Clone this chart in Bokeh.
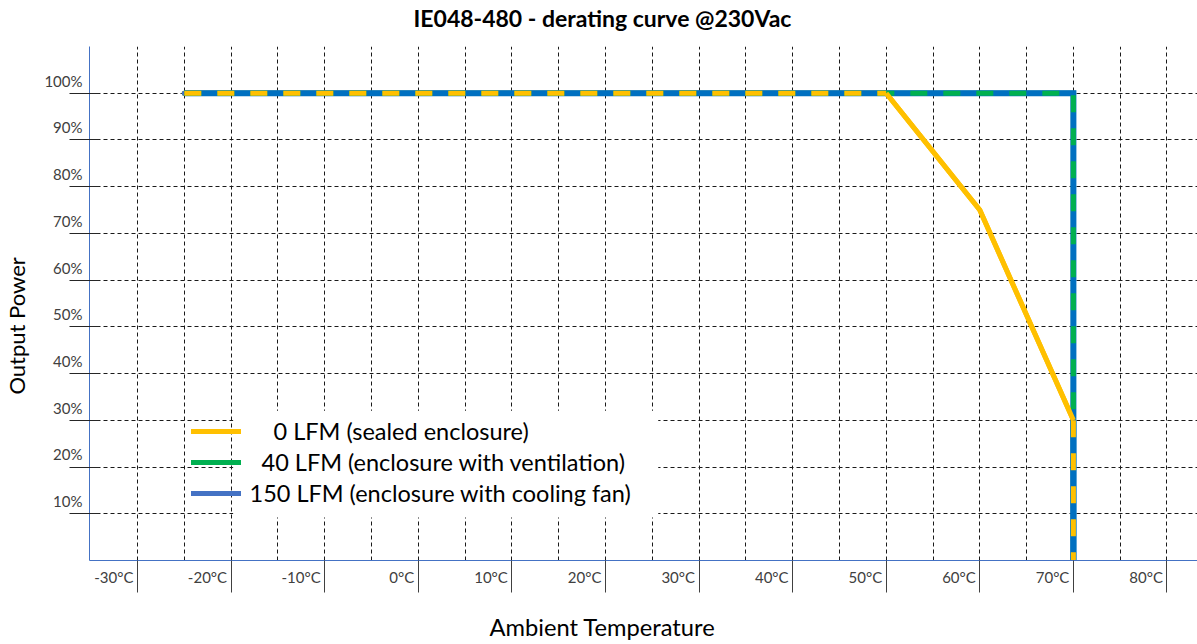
from bokeh.plotting import figure
from bokeh.models import (FixedTicker, Range1d, LinearAxis,
                          Legend, LegendItem, BoxAnnotation)
from bokeh.embed import file_html
from bokeh.resources import INLINE

# ---------------- data ----------------
title_text = "IE048-480 - derating curve @230Vac"
x_title = "Ambient Temperature"
y_title = "Output Power"

x_ticks = [-30, -20, -10, 0, 10, 20, 30, 40, 50, 60, 70, 80]
x_tick_labels = ["-30°C", "-20°C", "-10°C", "0°C", "10°C", "20°C", "30°C",
                 "40°C", "50°C", "60°C", "70°C", "80°C"]
x_grid = [-30, -25, -20, -15, -10, -5, 0, 5, 10, 15, 20, 25, 30, 35, 40, 45,
          50, 55, 60, 65, 70, 75, 80]
y_ticks = [10, 20, 30, 40, 50, 60, 70, 80, 90, 100]
y_tick_labels = ["10%", "20%", "30%", "40%", "50%", "60%", "70%", "80%", "90%", "100%"]

series_names = ["0 LFM (sealed enclosure)",
                "40 LFM (enclosure with ventilation)",
                "150 LFM (enclosure with cooling fan)"]
temp_0lfm = [-25, 50, 60, 70, 70]
power_0lfm = [100, 100, 75, 30, 0]
temp_40lfm = [-25, 70, 70]
power_40lfm = [100, 100, 0]
temp_150lfm = [-25, 70, 70]
power_150lfm = [100, 100, 0]

# ---------------- style ----------------
YELLOW = "#FFC000"
GREEN = "#00B050"
BLUE = "#0070C0"
BLUE_LEG = "#4472C4"
AXIS_BLUE = "#4472C4"
FONT = "Lato"
DASH = "17 16"

X_START, X_END = -35.13, 83.26
Y_START, Y_END = 0, 110
X_LAB_SHIFT = 0.43     # labels end 4 px left of their tick
Y_LAB_SHIFT = 2.7      # labels sit ~12 px above their tick
TITLE_X = 19.68        # centre of the title texts (data units)
YTITLE_Y = 50.2

p = figure(width=1197, height=644, x_range=Range1d(X_START, X_END),
           y_range=Range1d(Y_START, Y_END), output_backend="svg",
           toolbar_location=None, title=None,
           min_border_left=89, min_border_right=0,
           min_border_top=45, min_border_bottom=84)
p.outline_line_color = None
p.background_fill_color = "white"
p.border_fill_color = "white"


def text_axis(pos, text, standoff, size, style="normal", **kw):
    return LinearAxis(ticker=FixedTicker(ticks=[pos], minor_ticks=[]),
                      major_label_overrides={pos: text},
                      axis_line_color=None, major_tick_line_color=None,
                      minor_tick_line_color=None, major_tick_out=0, major_tick_in=0,
                      minor_tick_out=0, minor_tick_in=0,
                      major_label_standoff=standoff, major_label_text_font=FONT,
                      major_label_text_font_style=style,
                      major_label_text_font_size=size,
                      major_label_text_color="#000000", **kw)


# x axis: minor ticks = real tick marks, major (invisible) ticks carry the labels
x_lab_pos = [t - X_LAB_SHIFT for t in x_ticks]
xa = p.xaxis[0]
xa.ticker = FixedTicker(ticks=x_lab_pos, minor_ticks=x_ticks)
xa.major_label_overrides = dict(zip(x_lab_pos, x_tick_labels))
xa.axis_line_color = AXIS_BLUE
xa.axis_line_width = 1
xa.major_tick_line_color = None
xa.major_tick_out = 0
xa.major_tick_in = 0
xa.minor_tick_line_color = "#404040"
xa.minor_tick_out = 32
xa.minor_tick_in = 0
xa.major_label_orientation = 0.0001
xa.major_label_standoff = -16
xa.major_label_text_font = FONT
xa.major_label_text_font_size = "15px"
xa.major_label_text_color = "#404040"

# y axis
y_lab_pos = [t + Y_LAB_SHIFT for t in y_ticks]
ya = p.yaxis[0]
ya.ticker = FixedTicker(ticks=y_lab_pos, minor_ticks=y_ticks)
ya.major_label_overrides = dict(zip(y_lab_pos, y_tick_labels))
ya.axis_line_color = AXIS_BLUE
ya.axis_line_width = 1
ya.major_tick_line_color = None
ya.major_tick_out = 0
ya.major_tick_in = 0
ya.minor_tick_line_color = "#262626"
ya.minor_tick_out = 20
ya.minor_tick_in = 10
ya.major_label_standoff = -13
ya.major_label_text_font = FONT
ya.major_label_text_font_size = "15px"
ya.major_label_text_color = "#404040"

# titles (as single labels on text-only axes)
p.add_layout(text_axis(TITLE_X, title_text, 15, "23px", "bold"), "above")
p.add_layout(text_axis(TITLE_X, x_title, 15, "23.7px"), "below")
p.add_layout(text_axis(YTITLE_Y, y_title, 11, "22px",
                       major_label_orientation="parallel"), "left")

# grids
p.xgrid.ticker = FixedTicker(ticks=x_grid, minor_ticks=[])
p.ygrid.ticker = FixedTicker(ticks=y_ticks, minor_ticks=[])
for g in (p.xgrid[0], p.ygrid[0]):
    g.grid_line_color = "#1a1a1a"
    g.grid_line_dash = "4 3"
    g.grid_line_width = 1
    g.grid_line_alpha = 1

# ---------------- series ----------------
# legend proxies (solid), drawn underneath the real series
leg_colors = [YELLOW, GREEN, BLUE_LEG]
leg_x = [temp_0lfm, temp_40lfm, temp_150lfm]
leg_y = [power_0lfm, power_40lfm, power_150lfm]
proxies = [p.line(xs, ys, line_color=col, line_width=5, line_cap="round", line_join="miter")
           for xs, ys, col in zip(leg_x, leg_y, leg_colors)]

p.line(temp_150lfm, power_150lfm, line_color=BLUE, line_width=6, line_join="miter")
p.line(temp_40lfm, power_40lfm, line_color=GREEN, line_width=5,
       line_dash=DASH, line_cap="butt", line_join="miter")
p.line(temp_0lfm[3:], power_0lfm[3:], line_color=BLUE, line_width=6)
p.line(temp_0lfm[:2], power_0lfm[:2], line_color=YELLOW, line_width=5,
       line_dash=DASH, line_cap="butt")
p.line(temp_0lfm[3:], power_0lfm[3:], line_color=YELLOW, line_width=5,
       line_dash=DASH, line_cap="butt")
p.line(temp_0lfm[1:4], power_0lfm[1:4], line_color=YELLOW, line_width=5,
       line_join="round")

# ---------------- legend ----------------
p.add_layout(BoxAnnotation(left=-19.77, right=25.64, bottom=9.19, top=32.05,
                           fill_color="white", fill_alpha=1, line_color=None))
leg_pad = ["\u00a0" * 4, "\u00a0" * 2, ""]
items = [LegendItem(label=pad + name, renderers=[r])
         for name, pad, r in zip(series_names, leg_pad, proxies)]
legend = Legend(items=items, location=(101.5, 53.5), padding=0, margin=0, spacing=3,
                glyph_width=50, glyph_height=28, label_height=28, label_standoff=9,
                label_text_font=FONT, label_text_font_size="23.5px",
                label_text_color="#000000", background_fill_alpha=0,
                border_line_color=None)
p.add_layout(legend, "center")

open("out.html", "w").write(file_html(p, INLINE))
